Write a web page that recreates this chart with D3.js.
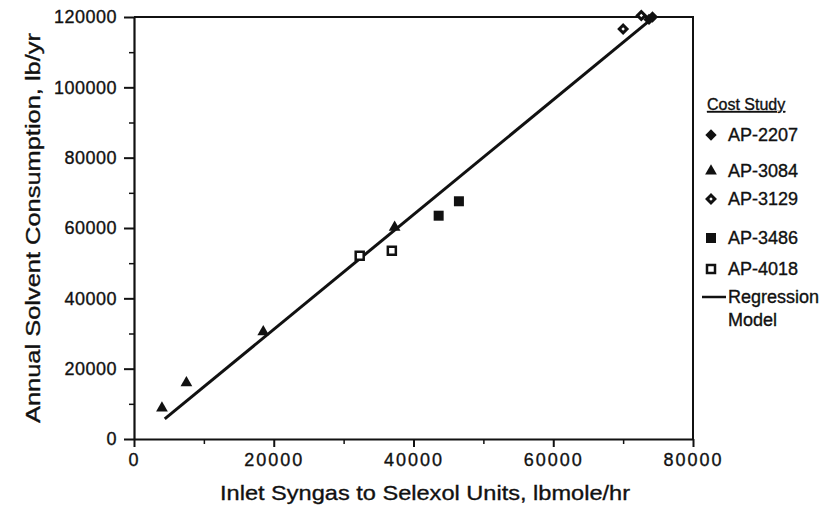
<!DOCTYPE html>
<html>
<head>
<meta charset="utf-8">
<script src="https://cdn.jsdelivr.net/npm/d3@7"></script>
<style>
  body { margin:0; background:#fff; }
  text { font-family: "Liberation Sans", Arial, Helvetica, sans-serif; fill:#111; stroke:#111; stroke-width:0.35px; }
</style>
</head>
<body>
<svg id="svg" width="832" height="508"></svg>
<script>
// values
var studies = ["AP-2207", "AP-3084", "AP-3129", "AP-3486", "AP-4018"];
var ap2207X = [73700, 74200];
var ap2207Y = [119300, 120000];
var ap3084X = [4000, 7500, 18500, 37300];
var ap3084Y = [8800, 16000, 30500, 60200];
var ap3129X = [70000, 72600];
var ap3129Y = [116600, 120400];
var ap3486X = [43600, 46500];
var ap3486Y = [63500, 67600];
var ap4018X = [32300, 36900];
var ap4018Y = [52100, 53500];
var regX = [4400, 74000];
var regY = [5700, 119300];
var xTicks = [0, 20000, 40000, 60000, 80000];
var yTicks = [0, 20000, 40000, 60000, 80000, 100000, 120000];

var x = d3.scaleLinear().domain([0, 80000]).range([134, 693]);
var y = d3.scaleLinear().domain([0, 120000]).range([439, 17]);

var svg = d3.select("#svg");

// frame (top + right)
svg.append("path")
  .attr("d", `M${x(0)},${y(120000)}H${x(80000)}V${y(0)}`)
  .attr("fill", "none")
  .attr("stroke", "#111")
  .attr("stroke-width", 2);

// minor ticks every 10000
svg.append("g")
  .attr("transform", `translate(${x(0)},0)`)
  .call(d3.axisLeft(y).tickValues(d3.range(10000, 120000, 20000)).tickSize(5).tickFormat(""))
  .call(g => g.select(".domain").remove())
  .selectAll("line").attr("stroke", "#111").attr("stroke-width", 1.5);
svg.append("g")
  .attr("transform", `translate(0,${y(0)})`)
  .call(d3.axisBottom(x).tickValues(d3.range(10000, 80000, 20000)).tickSize(5).tickFormat(""))
  .call(g => g.select(".domain").remove())
  .selectAll("line").attr("stroke", "#111").attr("stroke-width", 1.5);

var yAxis = svg.append("g")
  .attr("transform", `translate(${x(0)},0)`)
  .call(d3.axisLeft(y).tickValues(yTicks).tickSize(10).tickSizeOuter(0).tickPadding(7).tickFormat(d3.format("d")));
yAxis.select(".domain").attr("stroke", "#111").attr("stroke-width", 2.2);
yAxis.selectAll("line").attr("stroke", "#111").attr("stroke-width", 2);
yAxis.selectAll("text").style("font-size", "18px").style("letter-spacing", "0.5px").attr("fill", "#111");

var xAxis = svg.append("g")
  .attr("transform", `translate(0,${y(0)})`)
  .call(d3.axisBottom(x).tickValues(xTicks).tickSize(8).tickSizeOuter(0).tickPadding(6).tickFormat(d3.format("d")));
xAxis.select(".domain").attr("stroke", "#111").attr("stroke-width", 2.2);
xAxis.selectAll("line").attr("stroke", "#111").attr("stroke-width", 2);
xAxis.selectAll("text").style("font-size", "18px").style("letter-spacing", "2px").attr("fill", "#111");

// axis titles
svg.append("text")
  .attr("transform", `translate(40,${(y(0) + y(120000)) / 2}) rotate(-90)`)
  .attr("text-anchor", "middle")
  .style("font-size", "21px")
  .attr("textLength", 390)
  .attr("lengthAdjust", "spacingAndGlyphs")
  .text("Annual Solvent Consumption, lb/yr");

svg.append("text")
  .attr("x", 425)
  .attr("y", 500)
  .attr("text-anchor", "middle")
  .style("font-size", "21px")
  .attr("textLength", 410)
  .attr("lengthAdjust", "spacingAndGlyphs")
  .text("Inlet Syngas to Selexol Units, lbmole/hr");

// regression line
var line = d3.line().x(d => x(d[0])).y(d => y(d[1]));
svg.append("path")
  .datum(d3.zip(regX, regY))
  .attr("d", line)
  .attr("fill", "none")
  .attr("stroke", "#111")
  .attr("stroke-width", 3);

// marker styles per study
var markers = {
  "AP-2207": {sym: d3.symbolSquare, size: 64, rot: 45, fill: "#111", stroke: "none", sw: 0},
  "AP-3084": {sym: d3.symbolTriangle, size: 60, rot: 0, fill: "#111", stroke: "none", sw: 0},
  "AP-3129": {sym: d3.symbolSquare, size: 30, rot: 45, fill: "#fff", stroke: "#111", sw: 3},
  "AP-3486": {sym: d3.symbolSquare, size: 100, rot: 0, fill: "#111", stroke: "none", sw: 0},
  "AP-4018": {sym: d3.symbolSquare, size: 64, rot: 0, fill: "#fff", stroke: "#111", sw: 2.5}
};

var points = [
  ...d3.zip(ap2207X, ap2207Y).map(d => ({s: "AP-2207", x: d[0], y: d[1]})),
  ...d3.zip(ap3084X, ap3084Y).map(d => ({s: "AP-3084", x: d[0], y: d[1]})),
  ...d3.zip(ap3129X, ap3129Y).map(d => ({s: "AP-3129", x: d[0], y: d[1]})),
  ...d3.zip(ap3486X, ap3486Y).map(d => ({s: "AP-3486", x: d[0], y: d[1]})),
  ...d3.zip(ap4018X, ap4018Y).map(d => ({s: "AP-4018", x: d[0], y: d[1]}))
];

function drawMarker(sel) {
  sel.attr("d", d => d3.symbol().type(markers[d.s].sym).size(markers[d.s].size)())
    .attr("fill", d => markers[d.s].fill)
    .attr("stroke", d => markers[d.s].stroke)
    .attr("stroke-width", d => markers[d.s].sw);
}

svg.append("g").selectAll("path")
  .data(points)
  .enter().append("path")
  .attr("transform", d => `translate(${x(d.x)},${y(d.y)}) rotate(${markers[d.s].rot})`)
  .call(drawMarker);

// legend
var legY = [135, 171, 199, 238, 269];
var leg = svg.append("g");
leg.append("text")
  .attr("x", 707).attr("y", 110)
  .style("font-size", "16px")
  .attr("text-decoration", "underline")
  .text("Cost Study");

leg.selectAll(".legmark")
  .data(studies.map((s, i) => ({s: s, i: i})))
  .enter().append("path")
  .attr("class", "legmark")
  .attr("transform", d => `translate(711,${legY[d.i]}) rotate(${markers[d.s].rot})`)
  .call(drawMarker);

leg.selectAll(".legtext")
  .data(studies)
  .enter().append("text")
  .attr("class", "legtext")
  .attr("x", 728)
  .attr("y", (d, i) => legY[i])
  .attr("dy", "0.36em")
  .style("font-size", "18px")
  .text(d => d);

leg.append("line")
  .attr("x1", 702).attr("x2", 726)
  .attr("y1", 297).attr("y2", 297)
  .attr("stroke", "#111").attr("stroke-width", 2.5);
leg.append("text")
  .attr("x", 728).attr("y", 297).attr("dy", "0.36em")
  .style("font-size", "18px")
  .text("Regression");
leg.append("text")
  .attr("x", 728).attr("y", 320).attr("dy", "0.36em")
  .style("font-size", "18px")
  .text("Model");
</script>
</body>
</html>
